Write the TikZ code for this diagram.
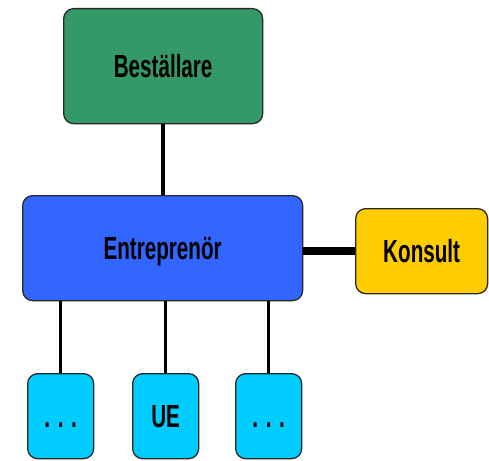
\documentclass[tikz,border=0pt]{standalone}
\usepackage{fontspec}
\setmainfont{Liberation Sans}[FakeStretch=0.645]
\definecolor{cgreen}{RGB}{51,153,102}
\definecolor{cblue}{RGB}{51,102,255}
\definecolor{cyellow}{RGB}{255,204,0}
\definecolor{ccyan}{RGB}{0,204,255}
\definecolor{cborder}{RGB}{40,40,40}
\tikzset{
  box/.style={draw=cborder, line width=1.3pt, rounded corners=10pt, inner sep=0pt,
    font=\fontsize{32}{35}\selectfont\bfseries, text height=23pt, text depth=0pt, anchor=north west},
  link/.style={line width=3.6pt, black},
  thicklink/.style={line width=8pt, black}
}
\begin{document}
\begin{tikzpicture}[x=1pt,y=-1pt]
\useasboundingbox (0,0) rectangle (489,460);
\node[box, fill=cgreen, minimum width=199pt, minimum height=115pt] (best) at (63,8) {Beställare};
\node[box, fill=cblue, minimum width=280pt, minimum height=105pt] (ent) at (22,195) {Entreprenör};
\node[box, fill=cyellow, minimum width=132pt, minimum height=85pt] (kons) at (355,208) {Konsult};
\node[box, fill=ccyan, minimum width=66pt, minimum height=85pt] (b1) at (27,373) {. . .};
\node[box, fill=ccyan, minimum width=66pt, minimum height=85pt] (b2) at (132,373) {UE};
\node[box, fill=ccyan, minimum width=66pt, minimum height=85pt] (b3) at (235,373) {. . .};
\draw[link] (best.south) -- (ent.north -| best.south);
\draw[thicklink] (ent.east |- kons.west) -- (kons.west);
\draw[link] (b1.north) -- (b1.north |- ent.south);
\draw[link] (b2.north) -- (b2.north |- ent.south);
\draw[link] (b3.north) -- (b3.north |- ent.south);
\end{tikzpicture}
\end{document}
